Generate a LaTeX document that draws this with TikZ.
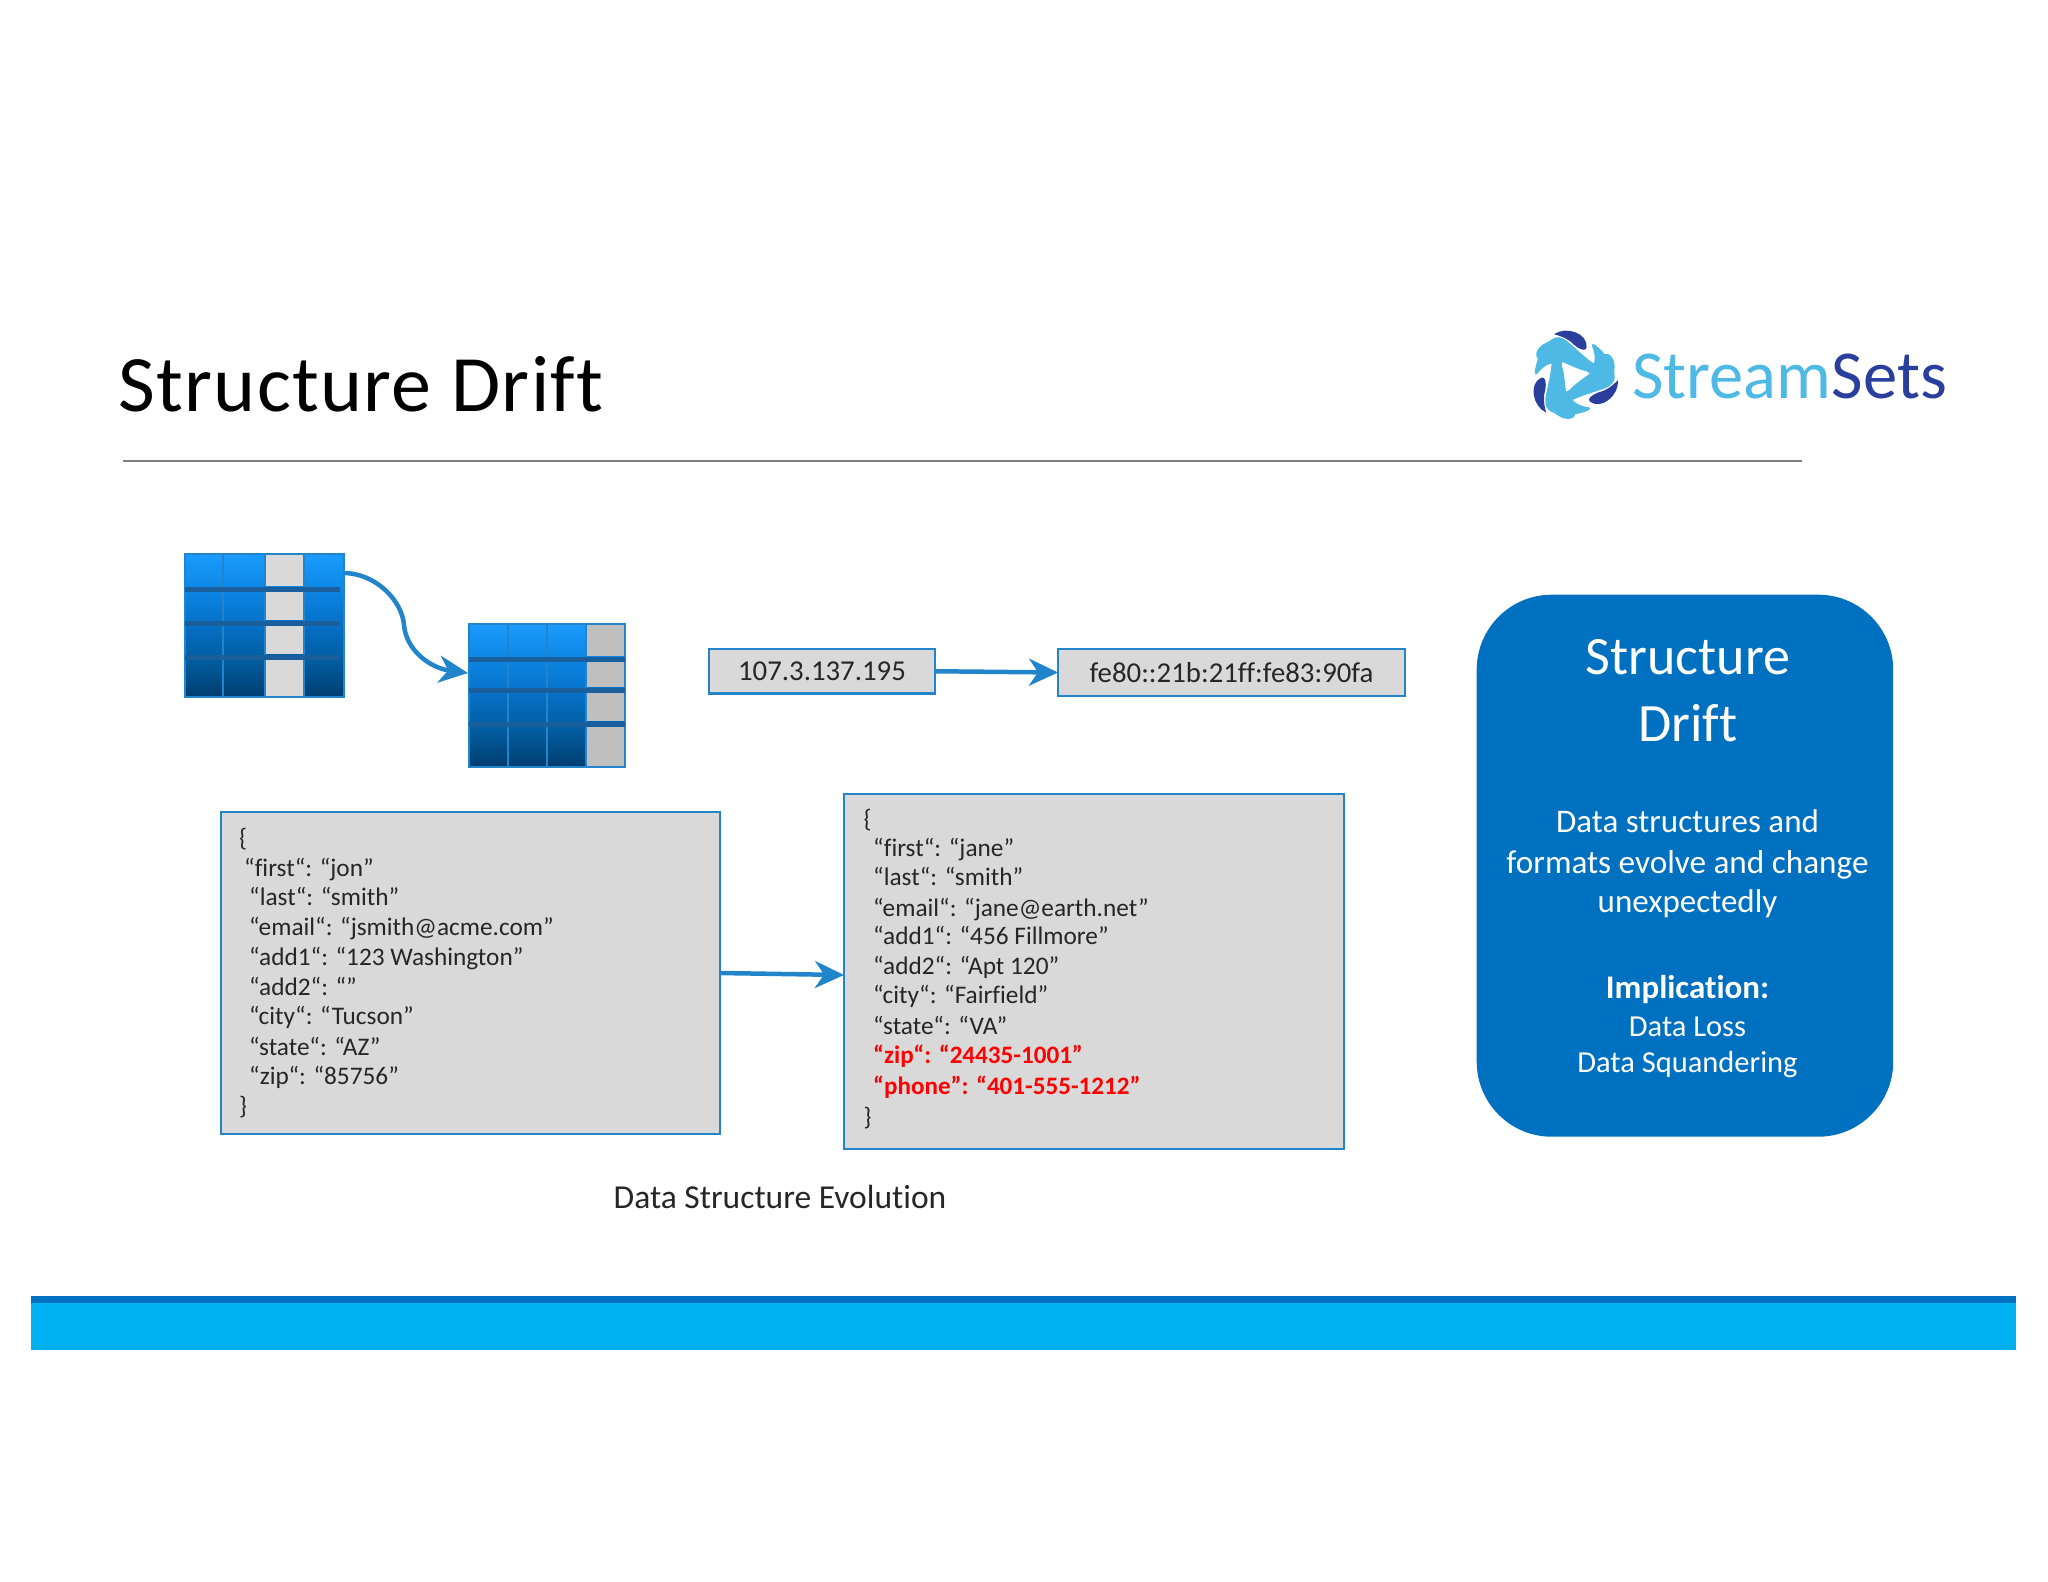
\documentclass[tikz,border=0pt]{standalone}
\usepackage{fontspec}
\setmainfont{Carlito}[Ligatures=NoCommon]
\newfontfamily\titlefont{Carlito}[Ligatures=NoCommon,LetterSpace=1.7]
\usetikzlibrary{arrows.meta}
\definecolor{edge}{HTML}{2285CC}
\definecolor{band}{HTML}{1A5E9C}
\definecolor{boxgray}{HTML}{D9D9D9}
\definecolor{ink}{HTML}{262626}
\definecolor{deep}{HTML}{0070C0}
\definecolor{sky}{HTML}{00B0F0}
\definecolor{lightlogo}{HTML}{4FB9E6}
\definecolor{darklogo}{HTML}{2A3F9D}
\newcommand{\fs}[1]{\fontsize{#1}{#1}\selectfont}
\definecolor{c0}{HTML}{1B9CFF}
\definecolor{c1}{HTML}{0C86E4}
\definecolor{c2}{HTML}{0670C6}
\definecolor{c3}{HTML}{015C9F}
\definecolor{c4}{HTML}{003D70}
\pgfdeclareverticalshading{tabgrad}{100bp}{
 color(0bp)=(c4); color(25bp)=(c4); color(37.5bp)=(c3); color(50bp)=(c2); color(62.5bp)=(c1); color(75bp)=(c0); color(100bp)=(c0)}
\tikzset{
  x=1pt,y=-1pt,
  table/.style={rectangle,draw=edge,line width=2pt,shading=tabgrad,minimum width=#1,inner sep=0,outer sep=0,anchor=north west},
  flow/.style={draw=edge,line width=4.5pt,-{Stealth[length=29pt,width=27pt,inset=9pt]}},
  sep/.style={draw=edge,line width=2.5pt},
  rowband/.style={draw=band,line width=5pt},
  card/.style={rectangle,draw=edge,line width=2.5pt,fill=boxgray,inner sep=0,outer sep=0,anchor=north west},
  jl/.style={anchor=base west,inner sep=0,text=ink,font=\fs{25.3}},
  jr/.style={anchor=base west,inner sep=0,text=red,font=\fs{25.1}\bfseries},
  wt/.style={anchor=base,inner sep=0,text=white},
}
\begin{document}
\begin{tikzpicture}
\useasboundingbox[fill=white] (0,0) rectangle (2048,1582);
% title
\node[anchor=base west,inner sep=0,text=black,font=\titlefont\fs{80}] (title) at (118,411.5) {Structure Drift};
\draw[draw=gray,line width=2.5pt] (123,461) -- (1802,461);
% logo
\begin{scope}[shift={(1521,324)},scale=1/3]
 \begin{scope}[shift={(155,155)},scale=1.02,shift={(-155,-155)}]
  \foreach \a in {0,120,240}{
  \begin{scope}[rotate around={\a:(155,155)}]
    \fill[lightlogo] (56,106) .. controls (38,100) and (48,62) .. (95,52)
      .. controls (140,45) and (175,105) .. (205,123)
      .. controls (225,128) and (222,90) .. (212,68)
      .. controls (210,58) and (220,62) .. (228,70)
      .. controls (260,98) and (282,135) .. (278,165)
      .. controls (272,200) and (210,195) .. (132,238)
      .. controls (118,240) and (115,215) .. (130,205)
      .. controls (170,182) and (240,170) .. (243,135)
      .. controls (205,160) and (155,125) .. (108,108)
      .. controls (85,102) and (75,108) .. (56,106) -- cycle;
    \fill[darklogo] (100,33) .. controls (135,8) and (200,30) .. (196,72)
      .. controls (195,85) and (175,78) .. (160,65)
      .. controls (145,48) and (125,40) .. (100,33) -- cycle;
  \end{scope}}
 \end{scope}
\end{scope}
\node[anchor=base west,inner sep=0,text=lightlogo,font=\fs{68.6}] (logoa) at (1632,398) {Stream};
\node[anchor=base west,inner sep=0,text=darklogo,font=\fs{68.6}] (logob) at (logoa.base east) {Sets};
% tables
\node[table=159pt,minimum height=143pt] (t1) at (184.5,554) {};
\draw[sep] (223,554) -- (223,697) (265,554) -- (265,697) (304,554) -- (304,697);
\foreach \ya/\yb in {555/586,592/620,626/654,659/695.5}{
  \fill[boxgray] (266,\ya) rectangle (303,\yb);}
\draw[rowband] (184.5,589) -- (340,589) (184.5,623) -- (340,623) (184.5,657) -- (340,657);
\node[table=156pt,minimum height=143pt] (t2) at (468.5,623.5) {};
\draw[sep] (508,623.5) -- (508,766.5) (547,623.5) -- (547,766.5) (586,623.5) -- (586,766.5);
\foreach \ya/\yb in {625/656,662/687,693/721,727/765.5}{
  \fill[black!25] (587,\ya) rectangle (623.5,\yb);}
\draw[rowband] (469,659) -- (624.5,659) (469,690) -- (624.5,690) (469,724) -- (624.5,724);
\coordinate (c1) at (343.5,573);
\coordinate (c2) at (468,673);
\draw[flow] (c1) .. controls (375,573) and (402,600) .. (404,625)
   .. controls (406,650) and (430,668) .. (c2);
% IP boxes
\node[card,minimum width=226pt,minimum height=44.5pt,text=ink,font=\fs{28.8}] (ip1) at (709,649) {107.3.137.195};
\node[card,minimum width=347pt,minimum height=47pt,text=ink,font=\fs{28.8}] (ip2) at (1058,649) {fe80::21b:21ff:fe83:90fa};
\draw[flow] (ip1.east) -- (ip2.west);
% JSON boxes
\node[card,minimum width=499pt,minimum height=322pt] (j1) at (221,812) {};
\node[card,minimum width=500pt,minimum height=355pt] (j2) at (844,794) {};
\coordinate (j2in) at (844,975);
\draw[flow] (j1.east) -- (j2in);
\node[jl] (a0) at (239,846) {\{};
\node[jl] (a1) at (244,876.4) {“first“: “jon”};
\node[jl] (a2) at (249,905.4) {“last“: “smith”};
\node[jl] (a3) at (249,935.4) {“email“: “jsmith@acme.com”};
\node[jl] (a4) at (249,965.4) {“add1“: “123 Washington”};
\node[jl] (a5) at (249,995.4) {“add2“: “”};
\node[jl] (a6) at (249,1024.4) {“city“: “Tucson”};
\node[jl] (a7) at (249,1055.4) {“state“: “AZ”};
\node[jl] (a8) at (249,1084.4) {“zip“: “85756”};
\node[jl] (a9) at (239,1114.4) {\}};
\node[jl] (b0) at (863.4,827) {\{};
\node[jl] (b1) at (873,856.7) {“first“: “jane”};
\node[jl] (b2) at (873,885.4) {“last“: “smith”};
\node[jl] (b3) at (873,916.4) {“email“: “jane@earth.net”};
\node[jl] (b4) at (873,944.4) {“add1“: “456 Fillmore”};
\node[jl] (b5) at (873,974.4) {“add2“: “Apt 120”};
\node[jl] (b6) at (873,1003.4) {“city“: “Fairfield”};
\node[jl] (b7) at (873,1034.4) {“state“: “VA”};
\node[jr] (b8) at (873,1063.4) {“zip“: “24435-1001”};
\node[jr] (b9) at (873,1094.4) {“phone”: “401-555-1212”};
\node[jl] (b10) at (863.4,1125.4) {\}};
\node[anchor=base west,inner sep=0,text=ink,font=\fs{33.5}] (cap) at (613.5,1208.5) {Data Structure Evolution};
% callout
\node[rectangle,rounded corners=75pt,fill=deep,minimum width=416.5pt,minimum height=542pt,inner sep=0,anchor=north west] (call) at (1476.5,594.5) {};
\node[wt,font=\fs{54}] (h1) at (1688,674.8) {Structure};
\node[wt,font=\fs{54}] (h2) at (1688,741.5) {Drift};
\node[wt,font=\fs{33}] (d1) at (1687.5,832) {Data structures and};
\node[wt,font=\fs{33.2}] (d2) at (1687.5,873.5) {formats evolve and change};
\node[wt,font=\fs{33}] (d3) at (1687.5,912) {unexpectedly};
\node[wt,font=\fs{33}\bfseries] (d4) at (1687.5,998) {Implication:};
\node[wt,font=\fs{30.5}] (d5) at (1687.5,1036.5) {Data Loss};
\node[wt,font=\fs{30.5}] (d6) at (1687.5,1072) {Data Squandering};
% bar
\fill[sky] (31,1296) rectangle (2016,1349.5);
\fill[deep] (31,1296) rectangle (2016,1303);
\end{tikzpicture}
\end{document}
